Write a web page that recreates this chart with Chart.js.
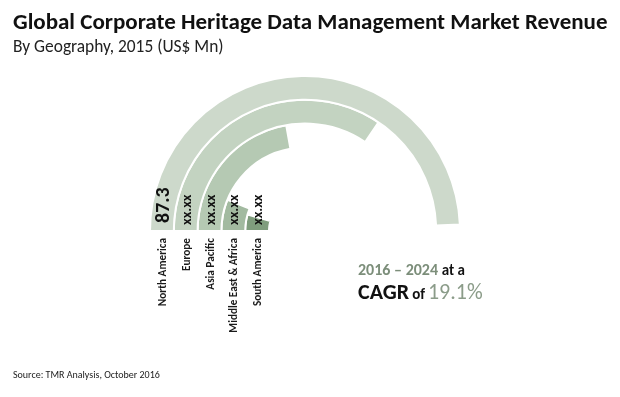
<!DOCTYPE html>
<html><head><meta charset="utf-8">
<script src="https://cdn.jsdelivr.net/npm/chart.js@4/dist/chart.umd.min.js"></script>
<style>
html,body{margin:0;padding:0;background:#fff;}
#wrap{position:relative;width:620px;height:397px;overflow:hidden;font-family:Carlito,Calibri,Lato,sans-serif;}
#c{position:absolute;left:0;top:0;}
.t{position:absolute;white-space:nowrap;line-height:1;}
#title{left:13px;top:10px;font-size:23px;font-weight:700;color:#111;}
#sub{left:13px;top:38px;font-size:17.4px;color:#222;}
#src{left:13px;top:370px;font-size:10px;color:#222;}
#cagr1{left:358px;top:262px;font-size:16px;font-weight:700;}
#cagr2{left:358px;top:281px;font-size:22px;font-weight:700;color:#111;}
.g{color:#7c8e7a;}
.sm{font-size:15px;color:#111;}
.lt{font-weight:400;color:#8b9c89;}
.rot{position:absolute;white-space:nowrap;transform:rotate(-90deg);transform-origin:0 0;}
.vl{font-weight:700;color:#111;}
.cl{width:130px;text-align:right;font-size:11.2px;font-weight:700;color:#1a1a1a;line-height:14px;}
</style></head>
<body>
<div id="wrap">
<canvas id="c" width="620" height="397"></canvas>
<div class="t" id="title">Global Corporate Heritage Data Management Market Revenue</div>
<div class="t" id="sub">By Geography, 2015 (US$ Mn)</div>
<div class="t" id="cagr1"><span class="g">2016 – 2024</span> <span class="sm">at a</span></div>
<div class="t" id="cagr2">CAGR<span class="sm" style="margin-left:3px">of</span><span class="lt" style="margin-left:3px">19.1%</span></div>
<div class="t" id="src">Source: TMR Analysis, October 2016</div>
</div>
<script>
const categories = ['North America', 'Europe', 'Asia Pacific', 'Middle East & Africa', 'South America'];
const values = [87.3, 61.0, 39.3, 10.8, 7.9];
const valueLabels = ['87.3', 'xx.xx', 'xx.xx', 'xx.xx', 'xx.xx'];
const scaleMax = 88.5;

const colors = ['#cdd9cb', '#c3d3c1', '#b5c9b3', '#a2baa0', '#7f9d7d'];
const wrap = document.getElementById('wrap');
const valEls = [], catEls = [];
categories.forEach((c, i) => {
  const v = document.createElement('div');
  v.className = 'rot vl';
  v.textContent = valueLabels[i];
  v.style.fontSize = i === 0 ? '20px' : '14.5px';
  v.style.lineHeight = i === 0 ? '20px' : '14px';
  wrap.appendChild(v); valEls.push(v);
  const e = document.createElement('div');
  e.className = 'rot cl';
  e.textContent = c;
  wrap.appendChild(e); catEls.push(e);
});

const ringLabels = {
  id: 'ringLabels',
  afterDraw(chart) {
    chart.data.datasets.forEach((ds, i) => {
      const arc = chart.getDatasetMeta(i).data[0];
      const p = arc.getProps(['x', 'y', 'innerRadius', 'outerRadius'], true);
      const mx = p.x - (p.innerRadius + p.outerRadius) / 2;
      const lh = i === 0 ? 20 : 14;
      const v = valEls[i];
      v.style.left = (mx - lh / 2) + 'px';
      v.style.top = (p.y - (i === 0 ? 8 : 6)) + 'px';
      const e = catEls[i];
      e.style.left = (mx - 7) + 'px';
      e.style.top = (p.y + 7 + 130) + 'px';
    });
  }
};

new Chart(document.getElementById('c'), {
  type: 'doughnut',
  data: {
    labels: ['value', 'rest'],
    datasets: values.map((v, i) => ({
      label: categories[i],
      data: [v, scaleMax - v],
      backgroundColor: [colors[i], 'rgba(0,0,0,0)'],
      borderColor: '#ffffff',
      borderWidth: [2, 0],
      hoverBorderWidth: 0
    }))
  },
  options: {
    responsive: false,
    animation: false,
    events: [],
    rotation: -90,
    circumference: 180,
    cutout: 18,
    layout: { padding: { left: 149, top: 75, right: 159, bottom: 165 } },
    plugins: { legend: { display: false }, tooltip: { enabled: false } }
  },
  plugins: [ringLabels]
});
</script>
</body></html>
